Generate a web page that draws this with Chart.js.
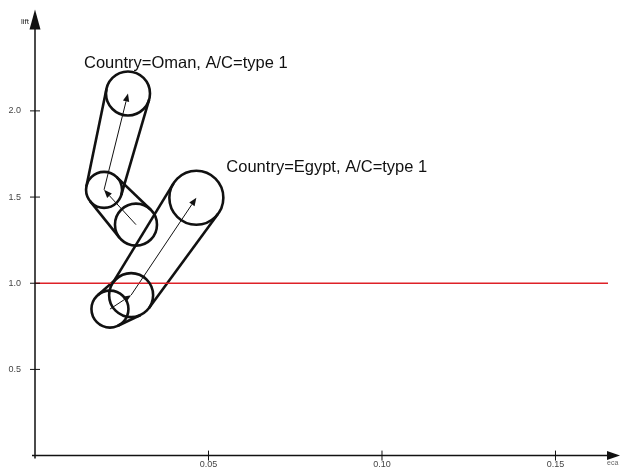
<!DOCTYPE html>
<html>
<head>
<meta charset="utf-8">
<script src="https://cdn.jsdelivr.net/npm/chart.js@4.4.1/dist/chart.umd.min.js"></script>
<style>
  html, body { margin: 0; padding: 0; background: #ffffff; }
  #wrap { width: 622px; height: 475px; position: relative; }
</style>
</head>
<body>
<div id="wrap"><canvas id="c" width="622" height="475"></canvas></div>
<script>
// Trajectories (eca vs lift), each step's bubble size in pixels
const omanEca = [0.0291, 0.0199, 0.0268];
const omanLift = [1.340, 1.542, 2.101];
const omanSize = [21, 18, 22];

const egyptEca = [0.0216, 0.0277, 0.0465];
const egyptLift = [0.850, 0.931, 1.496];
const egyptSize = [18.5, 22, 27];

const seriesNames = ['Country=Oman, A/C=type 1', 'Country=Egypt, A/C=type 1'];

const ecaTicks = [0.05, 0.10, 0.15];
const liftTicks = [0.5, 1.0, 1.5, 2.0];
const liftBaseline = 1.0;
const ecaMax = 0.16513;
const liftMax = 2.478;

const FONT = "'Liberation Sans', Arial, Helvetica, sans-serif";

// The plot area is laid out by the paddings below; large bubbles must not shrink it
Chart.BubbleController.prototype.getMaxOverflow = function () { return false; };

function toPoints(xs, ys, rs) {
  return xs.map((x, i) => ({ x: x, y: ys[i], r: rs[i] }));
}

// Outer tangent segments joining two circles
function tangents(p1, r1, p2, r2) {
  const dx = p2.x - p1.x, dy = p2.y - p1.y;
  const L = Math.hypot(dx, dy);
  if (L <= Math.abs(r1 - r2)) return [];
  const th = Math.atan2(dy, dx);
  const a = Math.acos((r1 - r2) / L);
  return [th + a, th - a].map(t => [
    p1.x + r1 * Math.cos(t), p1.y + r1 * Math.sin(t),
    p2.x + r2 * Math.cos(t), p2.y + r2 * Math.sin(t)
  ]);
}

function arrow(ctx, x1, y1, x2, y2, len, half) {
  const ang = Math.atan2(y2 - y1, x2 - x1);
  const bx = x2 - len * Math.cos(ang), by = y2 - len * Math.sin(ang);
  ctx.beginPath();
  ctx.moveTo(x1, y1);
  ctx.lineTo(bx, by);
  ctx.stroke();
  ctx.beginPath();
  ctx.moveTo(x2, y2);
  ctx.lineTo(bx + half * Math.sin(ang), by - half * Math.cos(ang));
  ctx.lineTo(bx - half * Math.sin(ang), by + half * Math.cos(ang));
  ctx.closePath();
  ctx.fill();
}

const trailPlugin = {
  id: 'trail',
  beforeDatasetsDraw(chart) {
    const ctx = chart.ctx;
    const sizes = [omanSize, egyptSize];
    ctx.save();
    ctx.strokeStyle = '#111';
    ctx.fillStyle = '#111';
    [0, 1].forEach(di => {
      const pts = chart.getDatasetMeta(di).data;
      const rs = sizes[di];
      // capsule outlines between consecutive steps
      ctx.lineWidth = 2.6;
      for (let i = 0; i + 1 < pts.length; i++) {
        tangents(pts[i], rs[i], pts[i + 1], rs[i + 1]).forEach(s => {
          ctx.beginPath();
          ctx.moveTo(s[0], s[1]);
          ctx.lineTo(s[2], s[3]);
          ctx.stroke();
        });
      }
      // direction arrows centre to centre
      ctx.lineWidth = 1;
      for (let i = 0; i + 1 < pts.length; i++) {
        arrow(ctx, pts[i].x, pts[i].y, pts[i + 1].x, pts[i + 1].y, 8, 3.2);
      }
    });
    ctx.restore();
  },
  afterDraw(chart) {
    const ctx = chart.ctx;
    const area = chart.chartArea;
    const xs = chart.scales.x, ys = chart.scales.y;
    const ox = xs.getPixelForValue(0), oy = ys.getPixelForValue(0);
    ctx.save();
    ctx.strokeStyle = '#111';
    ctx.fillStyle = '#111';
    ctx.lineWidth = 1.5;
    // axis lines
    ctx.beginPath();
    ctx.moveTo(ox, oy + 3);
    ctx.lineTo(ox, area.top);
    ctx.moveTo(ox - 3, oy);
    ctx.lineTo(area.right, oy);
    ctx.stroke();
    // axis arrowheads
    ctx.beginPath();
    ctx.moveTo(ox, area.top - 19);
    ctx.lineTo(ox - 5.5, area.top + 1);
    ctx.lineTo(ox + 5.5, area.top + 1);
    ctx.closePath();
    ctx.fill();
    ctx.beginPath();
    ctx.moveTo(area.right + 12, oy);
    ctx.lineTo(area.right - 1, oy - 4.5);
    ctx.lineTo(area.right - 1, oy + 4.5);
    ctx.closePath();
    ctx.fill();
    // tick marks crossing the axes
    ctx.lineWidth = 1;
    xs.ticks.forEach(t => {
      const px = xs.getPixelForValue(t.value);
      ctx.beginPath();
      ctx.moveTo(px, oy - 5);
      ctx.lineTo(px, oy + 5);
      ctx.stroke();
    });
    ys.ticks.forEach(t => {
      const py = ys.getPixelForValue(t.value);
      ctx.beginPath();
      ctx.moveTo(ox - 5, py);
      ctx.lineTo(ox + 5, py);
      ctx.stroke();
    });
    // axis titles
    ctx.font = '8px ' + FONT;
    ctx.textBaseline = 'middle';
    ctx.textAlign = 'left';
    ctx.fillStyle = '#222';
    ctx.fillText('lift', ox - 14, area.top - 7);
    ctx.fillStyle = '#666';
    ctx.font = '7px ' + FONT;
    ctx.fillText('eca', area.right - 1, oy + 7);
    // series captions next to the last step
    ctx.fillStyle = '#111';
    ctx.font = '16.5px ' + FONT;
    const capOffsets = [{ dx: -44, dy: -30 }, { dx: 30, dy: -30 }];
    [0, 1].forEach(di => {
      const pts = chart.getDatasetMeta(di).data;
      const last = pts[pts.length - 1];
      ctx.fillText(seriesNames[di], last.x + capOffsets[di].dx, last.y + capOffsets[di].dy);
    });
    ctx.restore();
  }
};

new Chart(document.getElementById('c'), {
  type: 'bubble',
  data: {
    datasets: [
      {
        label: seriesNames[0],
        data: toPoints(omanEca, omanLift, omanSize),
        backgroundColor: 'rgba(0,0,0,0)',
        borderColor: '#111',
        borderWidth: 2.6,
        clip: false
      },
      {
        label: seriesNames[1],
        data: toPoints(egyptEca, egyptLift, egyptSize),
        backgroundColor: 'rgba(0,0,0,0)',
        borderColor: '#111',
        borderWidth: 2.6,
        clip: false
      },
      {
        type: 'line',
        label: 'baseline',
        data: [{ x: 0, y: liftBaseline }, { x: ecaMax, y: liftBaseline }],
        borderColor: '#de2127',
        borderWidth: 1.5,
        pointRadius: 0,
        fill: false
      }
    ]
  },
  options: {
    responsive: false,
    animation: false,
    events: [],
    layout: { padding: { top: 28.5, right: 14, left: 0, bottom: 0 } },
    plugins: { legend: { display: false }, tooltip: { enabled: false } },
    scales: {
      x: {
        type: 'linear',
        min: 0,
        max: ecaMax,
        grid: { display: false, drawTicks: false },
        border: { display: false },
        afterBuildTicks: s => { s.ticks = ecaTicks.map(v => ({ value: v })); },
        afterFit: s => { s.height = 16.5; },
        ticks: {
          padding: 4,
          color: '#444',
          font: { family: FONT, size: 9 },
          maxRotation: 0,
          autoSkip: false,
          callback: v => v.toFixed(2)
        }
      },
      y: {
        type: 'linear',
        min: 0,
        max: liftMax,
        grid: { display: false, drawTicks: false },
        border: { display: false },
        afterBuildTicks: s => { s.ticks = liftTicks.map(v => ({ value: v })); },
        afterFit: s => { s.width = 35; },
        ticks: {
          padding: 14,
          color: '#444',
          font: { family: FONT, size: 9 },
          autoSkip: false,
          callback: v => v.toFixed(1)
        }
      }
    }
  },
  plugins: [trailPlugin]
});
</script>
</body>
</html>
